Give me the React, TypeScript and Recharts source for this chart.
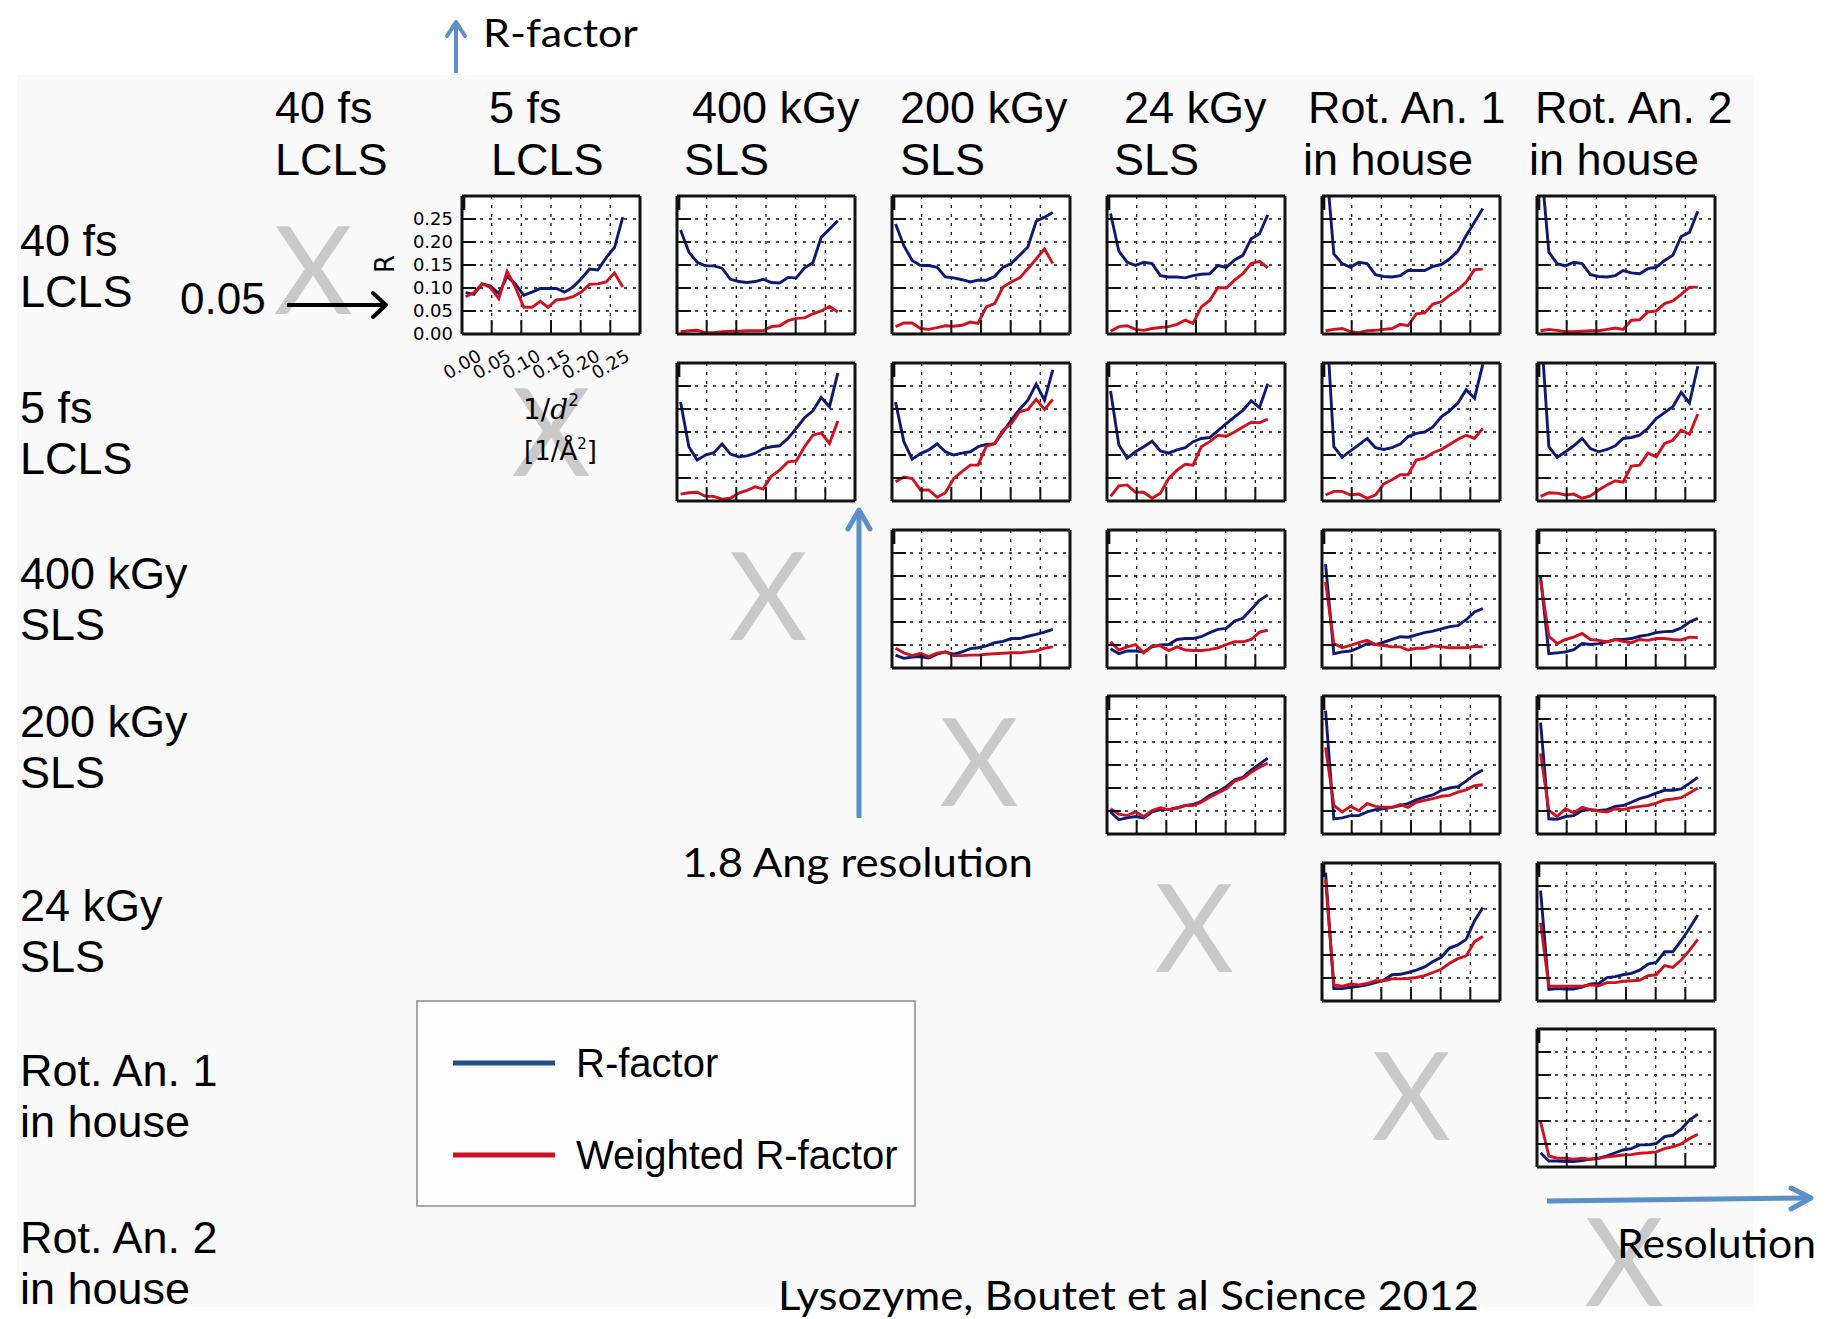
import React from 'react';
import { LineChart, Line, XAxis, YAxis, CartesianGrid } from 'recharts';

// R-factor comparison matrix: each panel is R vs 1/d^2 for one pair of datasets

const RES = [0.006, 0.020, 0.034, 0.048, 0.062, 0.076, 0.090, 0.104, 0.118, 0.132, 0.145, 0.159, 0.173, 0.187, 0.201, 0.215, 0.229, 0.243, 0.257, 0.271];
const X_TICKS = [0, 0.05, 0.1, 0.15, 0.2, 0.25];
const Y_TICKS = [0, 0.05, 0.1, 0.15, 0.2, 0.25];

const ROW_LABELS = [['40 fs', 'LCLS'], ['5 fs', 'LCLS'], ['400 kGy', 'SLS'], ['200 kGy', 'SLS'], ['24 kGy', 'SLS'], ['Rot. An. 1', 'in house'], ['Rot. An. 2', 'in house']];
const COL_LABELS = [['40 fs', 'LCLS'], ['5 fs', 'LCLS'], ['400 kGy', 'SLS'], ['200 kGy', 'SLS'], ['24 kGy', 'SLS'], ['Rot. An. 1', 'in house'], ['Rot. An. 2', 'in house']];
const LEGEND = ['R-factor', 'Weighted R-factor'];

// row 0: 40 fs LCLS
const R_L40_L5 = [0.090, 0.086, 0.109, 0.104, 0.088, 0.125, 0.109, 0.084, 0.091, 0.099, 0.099, 0.099, 0.091, 0.102, 0.120, 0.141, 0.139, 0.166, 0.188, 0.254];
const W_L40_L5 = [0.081, 0.090, 0.109, 0.101, 0.077, 0.136, 0.102, 0.058, 0.058, 0.071, 0.058, 0.074, 0.076, 0.081, 0.091, 0.108, 0.109, 0.113, 0.133, 0.102];
const R_L40_S400 = [0.226, 0.178, 0.156, 0.148, 0.148, 0.143, 0.119, 0.114, 0.112, 0.114, 0.119, 0.112, 0.111, 0.123, 0.122, 0.144, 0.155, 0.210, 0.228, 0.246];
const W_L40_S400 = [0.005, 0.007, 0.008, 0.003, 0.003, 0.005, 0.006, 0.006, 0.007, 0.007, 0.007, 0.016, 0.018, 0.029, 0.034, 0.035, 0.044, 0.050, 0.060, 0.048];
const R_L40_S200 = [0.239, 0.192, 0.160, 0.149, 0.149, 0.145, 0.124, 0.122, 0.118, 0.113, 0.117, 0.117, 0.125, 0.145, 0.153, 0.171, 0.189, 0.245, 0.254, 0.264];
const W_L40_S200 = [0.016, 0.024, 0.024, 0.012, 0.010, 0.014, 0.018, 0.017, 0.019, 0.026, 0.023, 0.059, 0.066, 0.102, 0.113, 0.122, 0.142, 0.163, 0.185, 0.153];
const R_L40_S24 = [0.262, 0.180, 0.156, 0.149, 0.156, 0.153, 0.127, 0.124, 0.124, 0.122, 0.127, 0.130, 0.131, 0.149, 0.145, 0.161, 0.171, 0.207, 0.218, 0.259];
const W_L40_S24 = [0.006, 0.016, 0.018, 0.010, 0.008, 0.012, 0.014, 0.016, 0.021, 0.030, 0.023, 0.059, 0.073, 0.101, 0.100, 0.117, 0.131, 0.153, 0.158, 0.144];
const R_L40_RA1 = [0.387, 0.174, 0.153, 0.145, 0.156, 0.153, 0.129, 0.125, 0.124, 0.127, 0.138, 0.138, 0.138, 0.147, 0.151, 0.163, 0.180, 0.214, 0.243, 0.273];
const W_L40_RA1 = [0.007, 0.010, 0.012, 0.005, 0.003, 0.007, 0.008, 0.010, 0.012, 0.021, 0.018, 0.044, 0.046, 0.065, 0.070, 0.084, 0.096, 0.113, 0.140, 0.141];
const R_L40_RA2 = [0.382, 0.178, 0.153, 0.148, 0.156, 0.153, 0.129, 0.125, 0.124, 0.127, 0.138, 0.133, 0.131, 0.142, 0.145, 0.160, 0.171, 0.212, 0.221, 0.267];
const W_L40_RA2 = [0.007, 0.010, 0.008, 0.005, 0.005, 0.006, 0.007, 0.007, 0.010, 0.013, 0.010, 0.030, 0.031, 0.048, 0.050, 0.066, 0.072, 0.086, 0.102, 0.102];

// row 1: 5 fs LCLS
const R_L5_S400 = [0.215, 0.118, 0.089, 0.100, 0.105, 0.124, 0.102, 0.096, 0.098, 0.104, 0.114, 0.118, 0.120, 0.136, 0.158, 0.181, 0.196, 0.225, 0.205, 0.278];
const W_L5_S400 = [0.015, 0.018, 0.019, 0.010, 0.010, 0.004, 0.006, 0.017, 0.023, 0.031, 0.026, 0.054, 0.067, 0.085, 0.087, 0.118, 0.143, 0.148, 0.125, 0.174];
const R_L5_S200 = [0.215, 0.129, 0.091, 0.103, 0.111, 0.124, 0.107, 0.100, 0.104, 0.107, 0.118, 0.123, 0.124, 0.150, 0.176, 0.199, 0.219, 0.254, 0.219, 0.285];
const W_L5_S200 = [0.042, 0.052, 0.049, 0.024, 0.024, 0.008, 0.018, 0.049, 0.064, 0.078, 0.078, 0.119, 0.125, 0.154, 0.168, 0.194, 0.199, 0.221, 0.199, 0.221];
const R_L5_S24 = [0.239, 0.122, 0.093, 0.107, 0.118, 0.130, 0.109, 0.104, 0.111, 0.116, 0.129, 0.136, 0.138, 0.153, 0.168, 0.183, 0.197, 0.218, 0.203, 0.255];
const W_L5_S24 = [0.010, 0.033, 0.035, 0.019, 0.019, 0.006, 0.017, 0.049, 0.067, 0.080, 0.078, 0.118, 0.129, 0.143, 0.141, 0.150, 0.161, 0.171, 0.170, 0.178];
const R_L5_RA1 = [0.425, 0.118, 0.095, 0.109, 0.122, 0.136, 0.116, 0.112, 0.116, 0.124, 0.140, 0.147, 0.150, 0.161, 0.183, 0.196, 0.213, 0.242, 0.223, 0.297];
const W_L5_RA1 = [0.013, 0.021, 0.021, 0.013, 0.015, 0.006, 0.013, 0.037, 0.046, 0.057, 0.057, 0.089, 0.093, 0.105, 0.112, 0.123, 0.134, 0.143, 0.136, 0.158];
const R_L5_RA2 = [0.389, 0.118, 0.095, 0.107, 0.120, 0.136, 0.114, 0.107, 0.112, 0.120, 0.136, 0.138, 0.143, 0.158, 0.179, 0.192, 0.205, 0.236, 0.213, 0.293];
const W_L5_RA2 = [0.010, 0.018, 0.017, 0.013, 0.015, 0.006, 0.011, 0.024, 0.035, 0.044, 0.041, 0.076, 0.078, 0.104, 0.096, 0.125, 0.132, 0.154, 0.145, 0.189];

// row 2: 400 kGy SLS
const R_S400_S200 = [0.028, 0.021, 0.024, 0.025, 0.022, 0.030, 0.035, 0.030, 0.035, 0.042, 0.044, 0.048, 0.055, 0.058, 0.064, 0.064, 0.069, 0.073, 0.078, 0.084];
const W_S400_S200 = [0.043, 0.033, 0.027, 0.032, 0.025, 0.032, 0.035, 0.027, 0.027, 0.028, 0.028, 0.030, 0.031, 0.032, 0.033, 0.033, 0.035, 0.037, 0.043, 0.046];
const R_S400_S24 = [0.042, 0.031, 0.037, 0.037, 0.035, 0.046, 0.050, 0.051, 0.062, 0.064, 0.064, 0.068, 0.077, 0.084, 0.086, 0.102, 0.108, 0.127, 0.147, 0.159];
const W_S400_S24 = [0.057, 0.039, 0.046, 0.051, 0.033, 0.048, 0.048, 0.038, 0.046, 0.039, 0.038, 0.038, 0.040, 0.044, 0.051, 0.057, 0.057, 0.062, 0.078, 0.082];
const R_S400_RA1 = [0.226, 0.031, 0.035, 0.037, 0.044, 0.053, 0.051, 0.056, 0.062, 0.068, 0.067, 0.072, 0.077, 0.080, 0.085, 0.090, 0.092, 0.105, 0.122, 0.129];
const W_S400_RA1 = [0.187, 0.053, 0.044, 0.049, 0.055, 0.060, 0.051, 0.049, 0.046, 0.046, 0.039, 0.043, 0.043, 0.048, 0.046, 0.044, 0.044, 0.044, 0.047, 0.046];
const R_S400_RA2 = [0.198, 0.031, 0.033, 0.035, 0.040, 0.053, 0.051, 0.053, 0.057, 0.062, 0.062, 0.064, 0.069, 0.072, 0.077, 0.079, 0.080, 0.087, 0.100, 0.108];
const W_S400_RA2 = [0.192, 0.069, 0.053, 0.062, 0.067, 0.075, 0.062, 0.060, 0.057, 0.062, 0.058, 0.055, 0.062, 0.060, 0.064, 0.064, 0.062, 0.061, 0.067, 0.066];

// row 3: 200 kGy SLS
const R_S200_S24 = [0.048, 0.031, 0.035, 0.038, 0.035, 0.048, 0.053, 0.053, 0.057, 0.062, 0.064, 0.071, 0.084, 0.092, 0.103, 0.118, 0.123, 0.139, 0.152, 0.165];
const W_S200_S24 = [0.055, 0.043, 0.040, 0.048, 0.038, 0.051, 0.057, 0.053, 0.056, 0.062, 0.062, 0.069, 0.080, 0.089, 0.098, 0.115, 0.121, 0.134, 0.145, 0.154];
const R_S200_RA1 = [0.268, 0.033, 0.035, 0.040, 0.040, 0.048, 0.053, 0.055, 0.058, 0.062, 0.066, 0.074, 0.080, 0.085, 0.095, 0.100, 0.103, 0.115, 0.129, 0.139];
const W_S200_RA1 = [0.188, 0.062, 0.048, 0.060, 0.051, 0.066, 0.060, 0.058, 0.058, 0.064, 0.058, 0.069, 0.073, 0.077, 0.082, 0.084, 0.091, 0.096, 0.105, 0.107];
const R_S200_RA2 = [0.242, 0.033, 0.032, 0.038, 0.040, 0.051, 0.053, 0.051, 0.053, 0.060, 0.062, 0.069, 0.077, 0.082, 0.089, 0.095, 0.095, 0.098, 0.110, 0.123];
const W_S200_RA2 = [0.175, 0.051, 0.038, 0.055, 0.046, 0.058, 0.053, 0.050, 0.048, 0.055, 0.053, 0.057, 0.060, 0.062, 0.067, 0.074, 0.076, 0.079, 0.089, 0.100];

// row 4: 24 kGy SLS
const R_S24_RA1 = [0.279, 0.027, 0.027, 0.030, 0.032, 0.035, 0.040, 0.045, 0.057, 0.058, 0.062, 0.067, 0.074, 0.086, 0.095, 0.115, 0.122, 0.134, 0.174, 0.203];
const W_S24_RA1 = [0.264, 0.035, 0.032, 0.037, 0.035, 0.038, 0.044, 0.044, 0.048, 0.048, 0.049, 0.051, 0.055, 0.062, 0.069, 0.082, 0.092, 0.098, 0.129, 0.140];
const R_S24_RA2 = [0.240, 0.025, 0.027, 0.026, 0.026, 0.030, 0.037, 0.038, 0.051, 0.053, 0.057, 0.060, 0.067, 0.080, 0.084, 0.107, 0.107, 0.131, 0.158, 0.187];
const W_S24_RA2 = [0.170, 0.032, 0.032, 0.032, 0.032, 0.032, 0.035, 0.033, 0.040, 0.040, 0.043, 0.044, 0.045, 0.055, 0.057, 0.077, 0.073, 0.089, 0.110, 0.134];

// row 5: Rot. An. 1
const R_RA1_RA2 = [0.031, 0.013, 0.013, 0.012, 0.012, 0.014, 0.017, 0.019, 0.024, 0.031, 0.037, 0.040, 0.048, 0.048, 0.051, 0.066, 0.069, 0.082, 0.102, 0.115];
const W_RA1_RA2 = [0.098, 0.024, 0.019, 0.019, 0.017, 0.019, 0.017, 0.019, 0.022, 0.024, 0.026, 0.027, 0.030, 0.031, 0.033, 0.040, 0.044, 0.050, 0.062, 0.071];

const CELLS = [
  { row: 0, col: 0, r: R_L40_L5, w: W_L40_L5 },
  { row: 0, col: 1, r: R_L40_S400, w: W_L40_S400 },
  { row: 0, col: 2, r: R_L40_S200, w: W_L40_S200 },
  { row: 0, col: 3, r: R_L40_S24, w: W_L40_S24 },
  { row: 0, col: 4, r: R_L40_RA1, w: W_L40_RA1 },
  { row: 0, col: 5, r: R_L40_RA2, w: W_L40_RA2 },
  { row: 1, col: 1, r: R_L5_S400, w: W_L5_S400 },
  { row: 1, col: 2, r: R_L5_S200, w: W_L5_S200 },
  { row: 1, col: 3, r: R_L5_S24, w: W_L5_S24 },
  { row: 1, col: 4, r: R_L5_RA1, w: W_L5_RA1 },
  { row: 1, col: 5, r: R_L5_RA2, w: W_L5_RA2 },
  { row: 2, col: 2, r: R_S400_S200, w: W_S400_S200 },
  { row: 2, col: 3, r: R_S400_S24, w: W_S400_S24 },
  { row: 2, col: 4, r: R_S400_RA1, w: W_S400_RA1 },
  { row: 2, col: 5, r: R_S400_RA2, w: W_S400_RA2 },
  { row: 3, col: 3, r: R_S200_S24, w: W_S200_S24 },
  { row: 3, col: 4, r: R_S200_RA1, w: W_S200_RA1 },
  { row: 3, col: 5, r: R_S200_RA2, w: W_S200_RA2 },
  { row: 4, col: 4, r: R_S24_RA1, w: W_S24_RA1 },
  { row: 4, col: 5, r: R_S24_RA2, w: W_S24_RA2 },
  { row: 5, col: 5, r: R_RA1_RA2, w: W_RA1_RA2 },
];

// layout
const COL_X = [462, 677, 892, 1107, 1322, 1537];
const ROW_Y = [196, 363, 530, 696, 863, 1029];
const PW = 178;
const PH = 138;
const NAVY = '#0c1a72';
const RED = '#d0121f';
const ARROW_BLUE = '#5b8fc7';
const ARIAL = '"Liberation Sans", Arial, sans-serif';
const CALIBRI = 'Lato, "Open Sans", sans-serif';
const MPL = '"DejaVu Sans", sans-serif';

const ROW_BASE = [256, 423, 589, 737, 921, 1086, 1253];
const COL_LEFT = [[275, 275], [489, 491], [692, 684], [900, 900], [1124, 1114], [1308, 1303], [1535, 1529]];
const X_MARKS = [[313, 270], [551, 432], [768, 596], [979, 762], [1194, 928], [1411, 1096], [1624, 1262]];

const XTickLabel = (props: any) => {
  const { x, y, payload } = props;
  return (
    <text x={x} y={y} transform={`rotate(-30 ${x} ${y})`} textAnchor="middle" dominantBaseline="central"
      fontSize={18} fontFamily={MPL} fill="#000">
      {Number(payload.value).toFixed(2)}
    </text>
  );
};

const NoLabel = () => <g />;

function MiniChart({ cell }: { cell: any }) {
  const labeled = cell.row === 0 && cell.col === 0;
  const ml = labeled ? 100 : 0;
  const mb = labeled ? 60 : 0;
  const data = RES.map((x, i) => ({ x, r: cell.r[i], w: cell.w[i] }));
  const axisLine = { stroke: '#111', strokeWidth: 3 };
  const tickLine = { stroke: '#111', strokeWidth: 2 };
  return (
    <div style={{ position: 'absolute', left: COL_X[cell.col] - 2 - ml, top: ROW_Y[cell.row] - 2 }}>
      <LineChart width={PW + 4 + ml} height={PH + 4 + mb} data={data} margin={{ top: 0, right: 0, bottom: mb, left: ml }}>
        <CartesianGrid stroke="#111" strokeDasharray="3 6" strokeWidth={1.3} fill="#fff" fillOpacity={1} />
        <XAxis dataKey="x" type="number" domain={[0, 0.3]} ticks={X_TICKS} interval={0} height={2} allowDataOverflow
          tickSize={-14} tickMargin={44} axisLine={axisLine} tickLine={tickLine} tick={labeled ? <XTickLabel /> : <NoLabel />} />
        <XAxis xAxisId="top" orientation="top" type="number" domain={[0, 0.3]} ticks={X_TICKS} interval={0} height={2}
          tickSize={-14} axisLine={axisLine} tickLine={tickLine} tick={<NoLabel />} />
        <YAxis type="number" domain={[0, 0.3]} ticks={Y_TICKS} interval={0} width={2} allowDataOverflow
          tickSize={-14} tickMargin={23} axisLine={axisLine} tickLine={tickLine}
          tick={labeled ? { fontSize: 18, fontFamily: MPL, fill: '#000' } : <NoLabel />}
          tickFormatter={(v: number) => v.toFixed(2)} />
        <YAxis yAxisId="right" orientation="right" type="number" domain={[0, 0.3]} ticks={Y_TICKS} interval={0} width={2}
          tickSize={-14} axisLine={axisLine} tickLine={tickLine} tick={<NoLabel />} />
        <Line dataKey="r" stroke={NAVY} strokeWidth={2.9} dot={false} isAnimationActive={false} />
        <Line dataKey="w" stroke={RED} strokeWidth={2.9} dot={false} isAnimationActive={false} />
      </LineChart>
    </div>
  );
}

export default function App() {
  return (
    <div style={{ position: 'absolute', left: 0, top: 0, width: 1826, height: 1319, background: '#fff', overflow: 'hidden' }}>
      <svg width={1826} height={1319} style={{ position: 'absolute', left: 0, top: 0 }}>
        <defs>
          <clipPath id="slide"><rect x={17} y={75} width={1736} height={1232} /></clipPath>
        </defs>
        <rect x={17} y={75} width={1736} height={1232} fill="#f9f9f9" />
        <g clipPath="url(#slide)">
          {X_MARKS.map(([cx, cy], i) => (
            <text key={i} x={cx} y={cy + 44} textAnchor="middle" fontSize={122} fontFamily={CALIBRI} fill="#c9c9c9">X</text>
          ))}
        </g>
      </svg>

      {CELLS.map((c, i) => <MiniChart key={i} cell={c} />)}

      <svg width={1826} height={1319} style={{ position: 'absolute', left: 0, top: 0, pointerEvents: 'none' }}>
        {/* column headers */}
        {COL_LABELS.map((lines, i) => (
          <g key={'c' + i} fontFamily={ARIAL} fontSize={45} fill="#000">
            <text x={COL_LEFT[i][0]} y={123}>{lines[0]}</text>
            <text x={COL_LEFT[i][1]} y={175}>{lines[1]}</text>
          </g>
        ))}
        {/* row labels */}
        {ROW_LABELS.map((lines, i) => (
          <g key={'r' + i} fontFamily={ARIAL} fontSize={45} fill="#000">
            <text x={20} y={ROW_BASE[i]}>{lines[0]}</text>
            <text x={20} y={ROW_BASE[i] + 51}>{lines[1]}</text>
          </g>
        ))}

        {/* R-factor arrow on top */}
        <line x1={456} y1={73} x2={456} y2={23} stroke={ARROW_BLUE} strokeWidth={4} />
        <polyline points="447,36 456,22 465,36" fill="none" stroke={ARROW_BLUE} strokeWidth={4} strokeLinecap="round" strokeLinejoin="round" />
        <text x={483} y={47} fontFamily={CALIBRI} fontSize={38} fill="#000" textLength={155} lengthAdjust="spacingAndGlyphs">R-factor</text>

        {/* 0.05 pointer */}
        <text x={180} y={314} fontFamily={ARIAL} fontSize={44} fill="#000">0.05</text>
        <line x1={287} y1={305} x2={383} y2={305} stroke="#000" strokeWidth={4} />
        <polyline points="373,293 386,305 373,317" fill="none" stroke="#000" strokeWidth={4} strokeLinecap="round" strokeLinejoin="round" />

        {/* axis labels of the sample panel */}
        <text x={394} y={264} transform="rotate(-90 394 264)" textAnchor="middle" fontFamily={MPL} fontSize={26} fill="#000">R</text>
        <text x={523} y={419} fontFamily={MPL} fontSize={28} fill="#000">
          1/<tspan fontFamily='"DejaVu Serif", serif' fontStyle="italic">d</tspan><tspan dy={-13} fontSize={17}>2</tspan>
        </text>
        <text x={524} y={460} fontFamily={MPL} fontSize={26} fill="#000">
          [1/Å<tspan dy={-11} fontSize={15}>2</tspan><tspan dy={11}>]</tspan>
        </text>

        {/* 1.8 Ang arrow */}
        <line x1={859} y1={818} x2={859} y2={512} stroke={ARROW_BLUE} strokeWidth={5} />
        <polyline points="848,529 859,510 870,529" fill="none" stroke={ARROW_BLUE} strokeWidth={5} strokeLinecap="round" strokeLinejoin="round" />
        <text x={682} y={877} fontFamily={CALIBRI} fontSize={40} fill="#000" textLength={351} lengthAdjust="spacingAndGlyphs">1.8 Ang resolution</text>

        {/* Resolution arrow */}
        <line x1={1547} y1={1201} x2={1808} y2={1198} stroke={ARROW_BLUE} strokeWidth={5} />
        <polyline points="1791,1188 1811,1198 1791,1209" fill="none" stroke={ARROW_BLUE} strokeWidth={5} strokeLinecap="round" strokeLinejoin="round" />
        <text x={1617} y={1258} fontFamily={CALIBRI} fontSize={40} fill="#000" textLength={199} lengthAdjust="spacingAndGlyphs">Resolution</text>

        {/* legend */}
        <rect x={417} y={1001} width={498} height={205} fill="#fdfdfd" stroke="#8a8a8a" strokeWidth={1.5} />
        <line x1={453} y1={1063} x2={555} y2={1063} stroke="#1f4e8d" strokeWidth={5} />
        <line x1={453} y1={1155} x2={555} y2={1155} stroke="#c9101f" strokeWidth={5} />
        <text x={576} y={1077} fontFamily={ARIAL} fontSize={40} fill="#000">{LEGEND[0]}</text>
        <text x={576} y={1169} fontFamily={ARIAL} fontSize={40} fill="#000">{LEGEND[1]}</text>

        {/* citation */}
        <text x={778} y={1310} fontFamily={CALIBRI} fontSize={40} fill="#000" textLength={701} lengthAdjust="spacingAndGlyphs">Lysozyme, Boutet et al Science 2012</text>
      </svg>
    </div>
  );
}
